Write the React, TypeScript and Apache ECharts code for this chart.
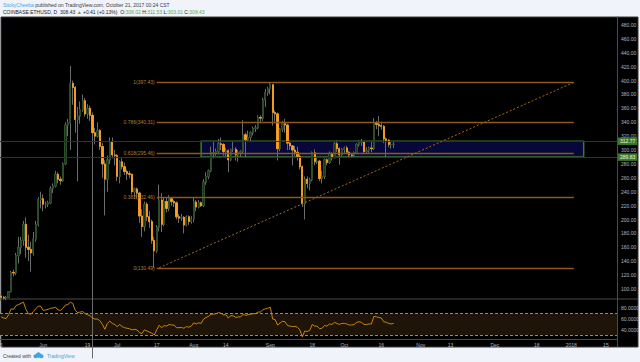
import React, { useEffect, useRef } from 'react';
import * as echarts from 'echarts';

// ---------- data ----------
const firstDayUTC = Date.UTC(2017, 4, 15);
const totalDays = 250; // May 15 2017 .. Jan 19 2018 (axis range)

const opens = [
  90, 88, 87, 88, 96, 124, 123, 148, 160, 170,
  193, 160, 157, 152, 172, 193, 229, 230, 222, 222,
  224, 245, 248, 265, 258, 256, 280, 336, 339, 396,
  390, 344, 349, 358, 371, 352, 360, 350, 325, 320,
  328, 305, 280, 258, 286, 312, 293, 292, 262, 283,
  276, 269, 266, 265, 240, 244, 238, 205, 190, 222,
  204, 197, 170, 155, 189, 228, 193, 226, 216, 230,
  226, 224, 204, 202, 203, 192, 204, 197, 201, 225,
  218, 224, 220, 254, 262, 270, 296, 296, 298, 309,
  308, 298, 299, 286, 301, 301, 293, 296, 298, 322,
  315, 318, 325, 331, 332, 347, 346, 372, 383, 388,
  394, 354, 352, 302, 330, 338, 336, 310, 306, 300,
  297, 291, 276, 223, 258, 252, 257, 296, 283, 284,
  259, 262, 286, 282, 295, 289, 309, 302, 293, 301,
  303, 297, 293, 292, 296, 308, 311, 312, 298, 299,
  303, 302, 339, 337, 335, 334, 316, 314, 308, 308.02,
];
const highs = [
  92, 90, 90, 97, 126, 128, 152, 175, 175, 198,
  203, 178, 168, 182, 198, 232, 240, 236, 226, 227,
  248, 252, 270, 268, 262, 282, 340, 345, 421, 400,
  392, 362, 370, 380, 375, 366, 364, 354, 332, 340,
  330, 310, 285, 292, 318, 318, 300, 294, 285, 288,
  282, 272, 270, 266, 246, 246, 240, 215, 226, 225,
  212, 200, 175, 192, 250, 238, 232, 232, 235, 232,
  228, 226, 208, 208, 205, 206, 206, 205, 232, 228,
  228, 226, 258, 268, 272, 305, 312, 302, 316, 318,
  310, 303, 301, 302, 312, 304, 300, 300, 343, 325,
  328, 327, 334, 336, 350, 350, 375, 388, 391, 397.43,
  395, 357, 354, 332, 342, 345, 338, 312, 307, 306,
  305, 294, 278, 262, 262, 260, 298, 301, 290, 286,
  270, 288, 288, 298, 297, 312, 314, 304, 303, 305,
  306, 298, 296, 298, 310, 314, 316, 313, 304, 305,
  312, 346, 342, 349, 341, 336, 318, 316, 312, 311.53,
];
const lows = [
  83, 85, 84, 87, 95, 118, 120, 137, 150, 162,
  145, 140, 125, 148, 168, 190, 216, 212, 216, 218,
  222, 238, 246, 252, 250, 254, 278, 320, 300, 365,
  325, 255, 338, 355, 348, 345, 342, 0.1, 308, 318,
  300, 260, 206, 240, 280, 288, 278, 255, 252, 272,
  264, 257, 260, 236, 232, 230, 195, 175, 183, 198,
  188, 165, 130.49, 152, 183, 182, 190, 210, 212, 220,
  218, 200, 195, 198, 180, 190, 192, 194, 196, 212,
  216, 218, 218, 250, 258, 268, 288, 292, 294, 300,
  292, 291, 268, 284, 297, 285, 283, 290, 296, 290,
  312, 313, 321, 326, 330, 339, 342, 362, 378, 380,
  335, 341, 285, 298, 326, 325, 300, 300, 278, 292,
  285, 272, 218, 200, 245, 242, 255, 278, 280, 255,
  252, 258, 278, 280, 285, 288, 297, 279, 291, 296,
  296, 289, 289, 289, 295, 305, 306, 294, 295, 296,
  297, 300, 330, 320, 329, 310, 290, 304, 302, 303.01,
];
const closes = [
  88, 87, 88, 96, 124, 123, 148, 160, 170, 193,
  160, 157, 152, 172, 193, 229, 230, 222, 222, 224,
  245, 248, 265, 258, 256, 280, 336, 339, 396, 390,
  344, 349, 358, 371, 352, 360, 350, 325, 320, 328,
  305, 280, 258, 286, 312, 293, 292, 262, 283, 276,
  269, 266, 265, 240, 244, 238, 205, 190, 222, 204,
  197, 170, 155, 189, 228, 193, 226, 216, 230, 226,
  224, 204, 202, 203, 192, 204, 197, 201, 225, 218,
  224, 220, 254, 262, 270, 296, 296, 298, 309, 308,
  298, 299, 286, 301, 301, 293, 296, 298, 322, 315,
  318, 325, 331, 332, 347, 346, 372, 383, 388, 394,
  354, 352, 302, 330, 338, 336, 310, 306, 300, 297,
  291, 276, 223, 258, 252, 257, 296, 283, 284, 259,
  262, 286, 282, 295, 289, 309, 302, 293, 301, 303,
  297, 293, 292, 296, 308, 311, 312, 298, 299, 303,
  302, 339, 337, 335, 334, 316, 314, 308, 308.02, 308.43,
];
const rsiValues = [
  64, 62, 61, 68, 79, 78, 85, 87, 89, 91.5,
  78, 70, 69, 74, 79, 84, 84, 76, 77, 78,
  80, 80.5, 82, 77, 76, 80, 86, 87, 91, 89,
  76, 72, 73, 74, 70, 68, 66, 62, 60, 60,
  57, 50, 41, 52, 56, 52, 50, 46, 50, 46,
  44, 43, 42, 40, 41, 40, 35, 33, 40, 38,
  36, 34, 30.4, 40, 48.7, 44, 48, 47, 50, 49,
  49, 44, 44, 44.5, 43, 46, 45, 47, 53, 51,
  53, 52, 60, 63, 65, 69, 69, 70, 72, 71,
  68, 68, 62, 66, 66, 63, 64, 64, 69, 67,
  68, 69, 70, 70, 73, 73, 77, 79, 80, 82,
  60, 59, 49, 53, 56, 55, 48, 47, 46, 46.5,
  45, 40, 27, 38, 37, 39, 50, 47, 47, 42,
  43, 48, 47, 51, 50, 54, 52, 50, 52, 52,
  51, 49, 49, 50, 54, 55, 54, 50, 50, 51,
  51, 65, 64, 63, 62, 55, 54, 52, 51, 52,
];

const tickDates = [
  '2017-05-15', '2017-06-01', '2017-06-19', '2017-07-01', '2017-07-17', '2017-08-01',
  '2017-08-14', '2017-09-01', '2017-09-18', '2017-10-01', '2017-10-16', '2017-11-01',
  '2017-11-13', '2017-12-01', '2017-12-18', '2018-01-01', '2018-01-15',
];
const tickLabels = ['5', 'Jun', '19', 'Jul', '17', 'Aug', '14', 'Sep', '18', 'Oct', '16', 'Nov', '13', 'Dec', '18', '2018', '15'];
const priceTicks = [100, 120, 140, 160, 180, 200, 220, 240, 260, 280, 300, 320, 340, 360, 380, 400, 420, 440, 460, 480];
const rsiTicks = [40, 60, 80];
const rsiBands = [70, 30];

const fibRatios = [1, 0.786, 0.618, 0.382, 0];
const fibPrices = [397.43, 340.31, 295.46, 232.46, 130.49];
const fibRange = ['2017-07-17', '2018-01-02'];
const zoneRange = ['2017-08-04', '2018-01-06'];
const zonePrices = [312.77, 289.83];
const trendDates = ['2017-07-18', '2018-01-02'];
const trendPrices = [130.49, 397.43];
const lastPrice = 308.43;

const header = {
  author: 'StickyCheeba',
  published: ' published on TradingView.com, October 21, 2017 00:24 CST',
  symbol: 'COINBASE:ETHUSD, D',
  change: '+0.41 (+0.13%)',
  o: '308.02', h: '311.53', l: '303.01', c: '308.43',
};

const dates: string[] = [];
for (let i = 0; i < totalDays; i++) {
  dates.push(new Date(firstDayUTC + i * 86400000).toISOString().slice(0, 10));
}

const FONT = '"Liberation Sans", Arial, sans-serif';
const ORANGE = '#ffa01c';
const FIB = '#8c5a16';

export default function App() {
  const ref = useRef<HTMLDivElement>(null);
  useEffect(() => {
    if (!ref.current) return;
    const chart = echarts.init(ref.current, undefined, { renderer: 'svg' });

    const wickData = opens.map((o, i) => [o, closes[i], lows[i], highs[i]]);
    const bodyData = opens.map((o, i) => [o, closes[i], Math.min(o, closes[i]), Math.max(o, closes[i])]);

    const fibLines = fibRatios.map((r, i) => [
      {
        coord: [fibRange[0], fibPrices[i]],
        lineStyle: { color: FIB, width: 1.3, type: 'solid' },
        label: {
          show: true, position: 'start', distance: 2,
          formatter: `${r}(${fibPrices[i].toFixed(2)})`,
          color: '#b67c26', fontSize: 5, fontFamily: FONT,
        },
      },
      { coord: [fibRange[1], fibPrices[i]] },
    ]);

    const badge = (bg: string) => ({
      show: true, position: 'end', distance: 1,
      backgroundColor: bg, color: '#e9f5e4', fontSize: 5, fontFamily: FONT,
      padding: [1.5, 2, 1, 2],
    });

    const option: any = {
      animation: false,
      backgroundColor: 'transparent',
      textStyle: { fontFamily: FONT },
      graphic: [
        { type: 'rect', z: -10, silent: true, shape: { x: 1, y: 17, width: 637, height: 330 }, style: { fill: '#000', stroke: '#3a3a3a', lineWidth: 1 } },
        { type: 'line', silent: true, shape: { x1: 1, y1: 299, x2: 638, y2: 299 }, style: { stroke: '#4a4a4a', lineWidth: 1 } },
        { type: 'line', silent: true, shape: { x1: 617.5, y1: 339, x2: 617.5, y2: 347 }, style: { stroke: '#4a4a4a', lineWidth: 1 } },
        {
          type: 'text', x: 3, y: 5, silent: true,
          style: {
            text: `{a|${header.author}}{b|${header.published}}`,
            verticalAlign: 'middle', font: `5px ${FONT}`,
            rich: { a: { fill: '#45a7e6', fontSize: 5 }, b: { fill: '#3a3a3a', fontSize: 5 } },
          },
        },
        {
          type: 'text', x: 3, y: 11.8, silent: true,
          style: {
            text: `{d|${header.symbol}  ${header.c} }{g|▲}{d| ${header.change}  O:}{g|${header.o}}{d| H:}{g|${header.h}}{d| L:}{g|${header.l}}{d| C:}{g|${header.c}}`,
            verticalAlign: 'middle', font: `5px ${FONT}`,
            rich: { d: { fill: '#222', fontSize: 5 }, g: { fill: '#4caf50', fontSize: 5 } },
          },
        },
        { type: 'circle', silent: true, shape: { cx: 35.5, cy: 356.3, r: 2 }, style: { fill: '#3aa6e0' } },
        { type: 'circle', silent: true, shape: { cx: 38.5, cy: 355.1, r: 2.8 }, style: { fill: '#3aa6e0' } },
        { type: 'circle', silent: true, shape: { cx: 41.5, cy: 356.3, r: 2 }, style: { fill: '#3aa6e0' } },
        {
          type: 'text', x: 3, y: 356.3, silent: true,
          style: { text: 'Created with', fill: '#444', font: `5px ${FONT}`, verticalAlign: 'middle' },
        },
        {
          type: 'text', x: 47, y: 356.3, silent: true,
          style: { text: 'TradingView', fill: '#3aa6e0', font: `5px ${FONT}`, verticalAlign: 'middle' },
        },
      ],
      grid: [
        { left: 0, right: 23, top: 17, height: 282, outerBoundsMode: 'none', containLabel: false },
        { left: 0, right: 23, top: 299, height: 40, outerBoundsMode: 'none', containLabel: false },
      ],
      xAxis: [
        { type: 'category', gridIndex: 0, data: dates, boundaryGap: true, show: false },
        {
          type: 'category', gridIndex: 1, data: dates, boundaryGap: true,
          axisLine: { show: true, lineStyle: { color: '#4a4a4a' } },
          axisTick: { show: false },
          splitLine: { show: false },
          axisLabel: {
            interval: (_i: number, v: string) => tickDates.indexOf(v) >= 0,
            formatter: (v: string) => tickLabels[tickDates.indexOf(v)] ?? '',
            color: '#b4b7be', fontSize: 5, margin: 3, fontFamily: FONT,
          },
        },
      ],
      yAxis: [
        {
          type: 'value', gridIndex: 0, position: 'right', min: 85.6, max: 491.5,
          splitLine: { show: false },
          axisLine: { show: true, lineStyle: { color: '#4a4a4a' } },
          axisTick: { show: false },
          axisLabel: {
            customValues: priceTicks, formatter: (v: number) => v.toFixed(2),
            color: '#b4b7be', fontSize: 5, margin: 4, fontFamily: FONT,
          },
        },
        {
          type: 'value', gridIndex: 1, position: 'right', min: 23.1, max: 97.2,
          splitLine: { show: false },
          axisLine: { show: true, lineStyle: { color: '#4a4a4a' } },
          axisTick: { show: false },
          axisLabel: {
            customValues: rsiTicks, formatter: (v: number) => v.toFixed(4),
            color: '#b4b7be', fontSize: 5, margin: 4, fontFamily: FONT,
          },
        },
      ],
      series: [
        {
          type: 'custom', xAxisIndex: 0, yAxisIndex: 0, z: 1, silent: true,
          data: [[zoneRange[0], zoneRange[1], zonePrices[0], zonePrices[1]]],
          encode: { x: [0, 1], y: [2, 3] },
          renderItem: (_p: any, api: any) => {
            const a = api.coord([api.value(0), api.value(2)]);
            const b = api.coord([api.value(1), api.value(3)]);
            return {
              type: 'rect',
              shape: { x: a[0], y: a[1], width: b[0] - a[0], height: b[1] - a[1] },
              style: { fill: '#07073a', stroke: '#3b7a2c', lineWidth: 1.5 },
            };
          },
        },
        {
          type: 'line', xAxisIndex: 0, yAxisIndex: 0, data: closes, z: 1,
          symbol: 'none', silent: true, lineStyle: { opacity: 0 },
          markLine: {
            silent: true, symbol: ['none', 'none'],
            data: [
              ...fibLines,
              { yAxis: lastPrice, lineStyle: { opacity: 0 }, label: { ...badge('#2f6a2a'), formatter: lastPrice.toFixed(2) } },
              { yAxis: zonePrices[0], lineStyle: { color: '#1f3d1c', width: 1, type: 'solid' }, label: { ...badge('#3b7a2c'), formatter: zonePrices[0].toFixed(2) } },
              { yAxis: zonePrices[1], lineStyle: { color: '#1f3d1c', width: 1, type: 'solid' }, label: { ...badge('#3b7a2c'), formatter: zonePrices[1].toFixed(2) } },
              [
                { coord: [trendDates[0], trendPrices[0]], lineStyle: { color: '#a46c1e', width: 1, type: [2, 2] }, label: { show: false } },
                { coord: [trendDates[1], trendPrices[1]] },
              ],
            ],
          },
        },
        {
          type: 'candlestick', xAxisIndex: 0, yAxisIndex: 0, data: wickData, z: 2,
          clip: true, barWidth: 1.8, silent: true,
          itemStyle: { color: '#6c6c6c', color0: '#6c6c6c', borderColor: '#6c6c6c', borderColor0: '#6c6c6c', borderWidth: 1 },
        },
        {
          type: 'candlestick', xAxisIndex: 0, yAxisIndex: 0, data: bodyData, z: 3,
          clip: true, barWidth: 1.8, silent: true,
          itemStyle: { color: '#1a3518', color0: ORANGE, borderColor: '#284d24', borderColor0: ORANGE, borderWidth: 0.8 },
        },
        {
          type: 'line', xAxisIndex: 1, yAxisIndex: 1, data: rsiValues, z: 3,
          symbol: 'none', silent: true,
          lineStyle: { color: '#c98216', width: 1 },
          markArea: {
            silent: true,
            itemStyle: { color: '#1e1407' },
            data: [[{ yAxis: rsiBands[0] }, { yAxis: rsiBands[1] }]],
          },
          markLine: {
            silent: true, symbol: ['none', 'none'],
            label: { show: false },
            lineStyle: { color: '#8a8a8a', width: 1, type: [3, 2] },
            data: rsiBands.map((b) => ({ yAxis: b })),
          },
        },
      ],
    };

    chart.setOption(option);
    return () => chart.dispose();
  }, []);

  return (
    <div
      ref={ref}
      style={{ position: 'fixed', left: 0, top: 0, width: 640, height: 362, background: '#f0f3fa' }}
    />
  );
}
